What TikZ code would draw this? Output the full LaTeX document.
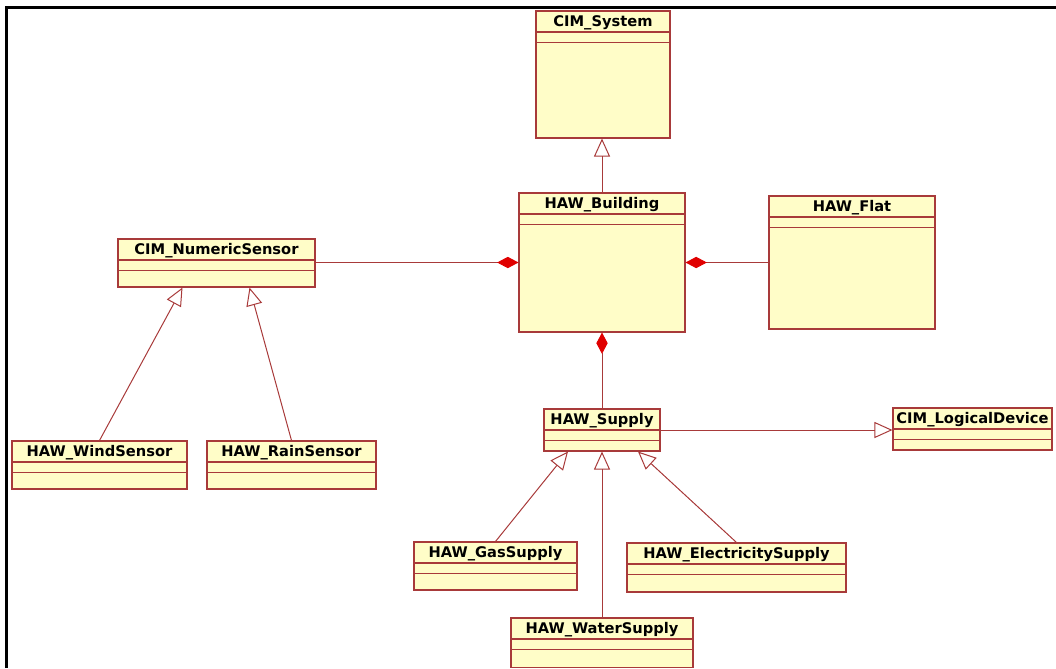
\documentclass[tikz,border=0pt]{standalone}
\usepackage{fontspec}
\setmainfont{DejaVu Sans}
\usepackage{xcolor}
\usepackage{tikz}
\usetikzlibrary{calc,arrows.meta,fit}
\definecolor{umlfill}{HTML}{FFFDC8}
\definecolor{umlline}{HTML}{A83A3A}
\definecolor{umlred}{HTML}{E00000}
\tikzset{
  cls/.style={draw=umlline,fill=umlfill,inner sep=0pt,line width=0.8pt},
  clstitle/.style={anchor=base,inner sep=0pt,font=\bfseries\fontsize{11}{13}\selectfont},
  gen/.style={-{Triangle[open,length=13.5pt,width=12pt]},umlline,line width=0.75pt},
  comp/.style={{Diamond[length=16pt,width=8.5pt,color=umlred]}-,umlline,line width=0.75pt}
}
% class box: name, left, top, right, bottom, title
\newcommand{\umlclass}[6]{%
  \node[cls,fit={(#2,#3)(#4,#5)}] (#1) {};
  \node[clstitle] (#1-t) at ($(#1.north)+(0,16)$) {#6};
  \draw[umlline,line width=0.8pt] ($(#1.north west)+(0,21.5)$) -- ($(#1.north east)+(0,21.5)$);
  \draw[umlline,line width=0.8pt] ($(#1.north west)+(0,32)$) -- ($(#1.north east)+(0,32)$);}

\begin{document}
\begin{tikzpicture}[x=0.75pt,y=-0.75pt]
\useasboundingbox (0,0) rectangle (1056,668);
\draw[line width=2.25pt] (6.5,668) -- (6.5,7.5) -- (1056,7.5);
% classes
\umlclass{sys}{536}{11}{670}{138}{CIM\_System}
\umlclass{bld}{519}{193}{685}{332}{HAW\_Building}
\umlclass{flat}{769}{196}{935}{329}{HAW\_Flat}
\umlclass{ns}{118}{239}{315}{287}{CIM\_NumericSensor}
\umlclass{wind}{12}{441}{187}{489}{HAW\_WindSensor}
\umlclass{rain}{207}{441}{376}{489}{HAW\_RainSensor}
\umlclass{sup}{544}{409}{660}{451}{HAW\_Supply}
\umlclass{ldev}{893}{408}{1052}{450}{CIM\_LogicalDevice}
\umlclass{gas}{414}{542}{577}{590}{HAW\_GasSupply}
\umlclass{elec}{627}{543}{846}{592}{HAW\_ElectricitySupply}
\umlclass{water}{511}{618}{693}{667.5}{HAW\_WaterSupply}
% associations
\draw[gen] (bld.north) -- (bld.north |- sys.south);
\draw[comp] (bld.west) -- (bld.west -| ns.east);
\draw[comp] (bld.east) -- (bld.east -| flat.west);
\draw[comp] (bld.south) -- (bld.south |- sup.north);
\draw[gen] (sup.east) -- (sup.east -| ldev.west);
\draw[gen] (wind.north) -- ($(ns.south)+(-34,0)$);
\draw[gen] (rain.north) -- ($(ns.south)+(33,0)$);
\draw[gen] (gas.north) -- ($(sup.south)+(-34,0)$);
\draw[gen] (water.north) -- (water.north |- sup.south);
\draw[gen] (elec.north) -- ($(sup.south)+(36,0)$);
\end{tikzpicture}
\end{document}
